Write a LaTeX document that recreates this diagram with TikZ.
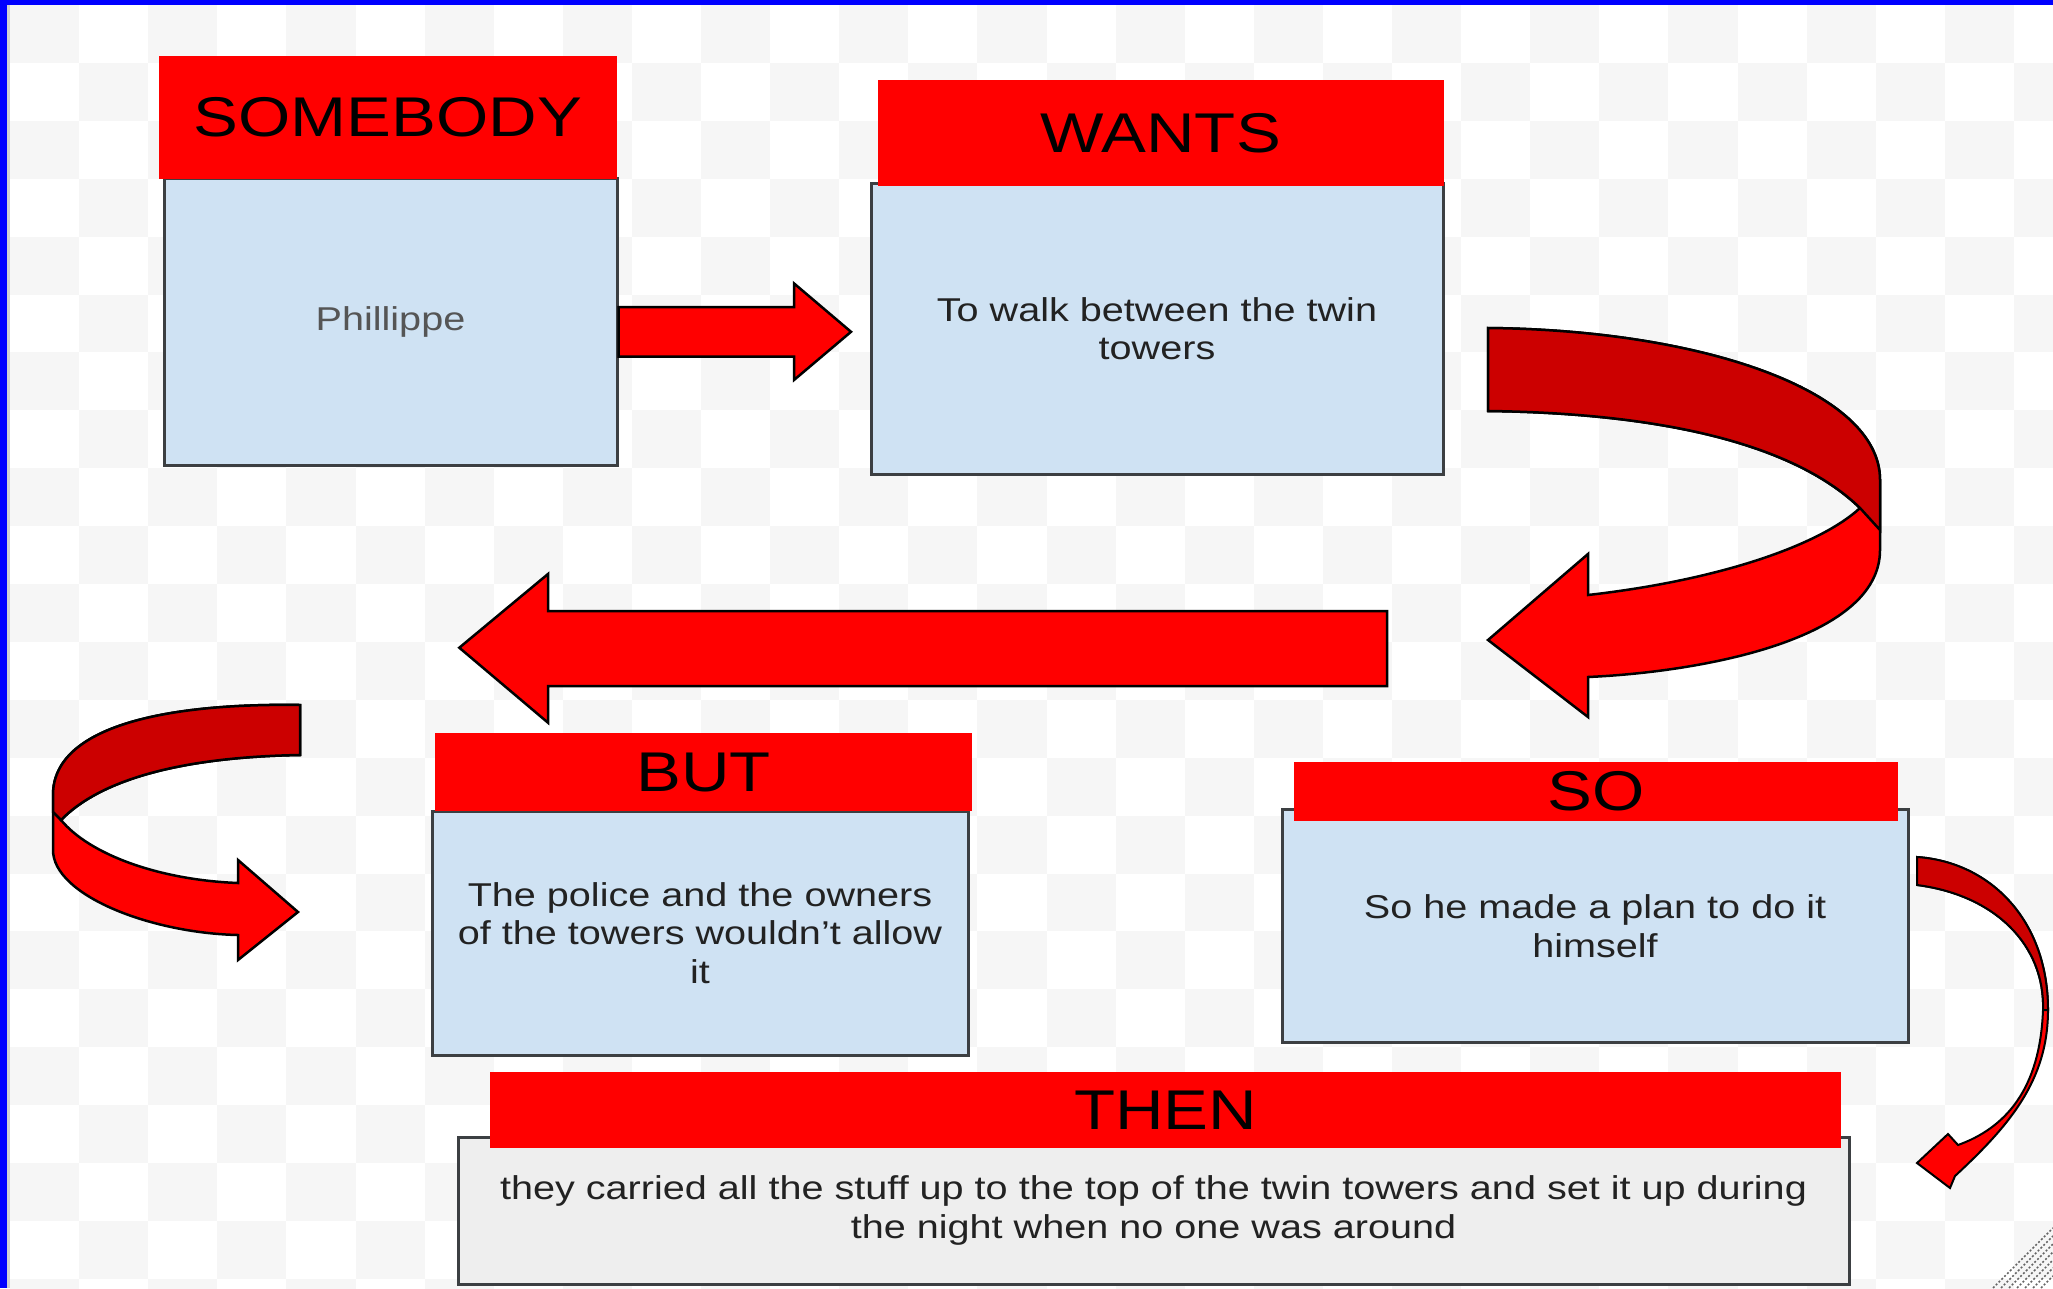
\documentclass[tikz,border=0pt]{standalone}
\usepackage{fontspec}
\setmainfont[FakeStretch=1.2]{Liberation Sans}
\definecolor{boxblue}{HTML}{CFE2F3}
\definecolor{boxgrey}{HTML}{EEEEEE}
\definecolor{checker}{HTML}{F6F6F6}
\definecolor{darkred}{HTML}{CC0000}
\definecolor{edgegrey}{HTML}{3C3F42}
\definecolor{textgrey}{HTML}{222222}
\definecolor{phgrey}{HTML}{555555}
\tikzset{
  hdr/.style={fill=red, inner sep=0pt, font=\fontsize{56}{64}\selectfont},
  bodybox/.style={draw=edgegrey, line width=3pt, fill=boxblue, inner sep=0pt, align=center, text=textgrey, font=\fontsize{33}{38.5}\selectfont},
  flowarrow/.style={fill=red, draw=black, line width=2.5pt, line join=miter},
  flowdark/.style={fill=darkred, draw=black, line width=2.5pt, line join=miter}
}
\begin{document}
\begin{tikzpicture}[x=1pt, y=-1pt]
\useasboundingbox (0,0) rectangle (2053,1288);
% background
\fill[white] (0,0) rectangle (2053,1288);
\begin{scope}
\clip (10,5) rectangle (2053,1288);
\foreach \i in {0,...,29}{
  \foreach \j in {0,...,22}{
    \ifodd\numexpr\i+\j\relax\else
      \fill[checker] (10+69.1*\i,5+57.9*\j) rectangle ++(69.1,57.9);
    \fi}}
\end{scope}
\fill[blue] (0,0) rectangle (2053,5);
\fill[blue] (0,0) rectangle (6.5,1288);
\fill[black!18] (6.5,5) rectangle (10,1288);
\foreach \k in {12,20,...,60}
  \draw[black!60, line width=1.5pt, dash pattern=on 2pt off 2pt] (2053-\k,1288) -- (2053,1288-\k);

% boxes
\node[bodybox, minimum width=453pt, minimum height=286.5pt, text=phgrey] (somebodyBody) at (390.5,322) {Phillippe};
\node[hdr, minimum width=458.5pt, minimum height=122.5pt] (somebodyHead) at (388,117.5) {SOMEBODY};

\node[bodybox, minimum width=572pt, minimum height=291pt] (wantsBody) at (1157,328.5) {To walk between the twin\\towers};
\node[hdr, minimum width=566.5pt, minimum height=106pt] (wantsHead) at (1160.75,133) {WANTS};

\node[bodybox, minimum width=536pt, minimum height=244pt] (butBody) at (700,933) {The police and the owners\\of the towers wouldn't allow\\it};
\node[hdr, minimum width=537pt, minimum height=77.5pt] (butHead) at (703.5,772) {BUT};

\node[bodybox, minimum width=626pt, minimum height=233.5pt] (soBody) at (1595,926) {So he made a plan to do it\\himself};
\node[hdr, minimum width=604pt, minimum height=58.6pt] (soHead) at (1596,791.3) {SO};

\node[bodybox, fill=boxgrey, minimum width=1391pt, minimum height=147pt] (thenBody) at (1153.5,1210.5) {they carried all the stuff up to the top of the twin towers and set it up during\\the night when no one was around};
\node[hdr, minimum width=1351pt, minimum height=76pt] (thenHead) at (1165.5,1110) {THEN};

% arrows
\filldraw[flowarrow] (somebodyBody.east |- 0,307) -- (794,307) -- (794,283.4) -- (851,331.8) -- (794,380) -- (794,356.5) -- (somebodyBody.east |- 0,356.5) -- cycle;

\filldraw[flowarrow] (1488,328) .. controls (1700,330) and (1880,390) .. (1880,480) -- (1880,550) .. controls (1880,640) and (1700,672) .. (1588,677) -- (1588,717) -- (1488,640) -- (1588,554) -- (1588,595) .. controls (1720,580) and (1820,545) .. (1860,508) .. controls (1790,440) and (1650,413) .. (1488,411) -- cycle;
\filldraw[flowdark] (1488,328) .. controls (1700,330) and (1880,390) .. (1880,480) -- (1880,530) -- (1860,508) .. controls (1790,440) and (1650,413) .. (1488,411) -- cycle;

\filldraw[flowarrow] (1387,611) -- (548,611) -- (548,574) -- (459.3,647.7) -- (548,722.7) -- (548,686) -- (1387,686) -- cycle;

\filldraw[flowarrow] (300,705) .. controls (170,703) and (53,725) .. (53,795) -- (53,850) .. controls (53,895) and (150,933) .. (238,935) -- (238,960) -- (298,912) -- (238,860) -- (238,883) .. controls (160,880) and (90,855) .. (61,820) .. controls (100,780) and (180,757) .. (300,755) -- cycle;
\filldraw[flowdark] (300,705) .. controls (170,703) and (53,725) .. (53,795) -- (53,812) -- (61,820) .. controls (100,780) and (180,757) .. (300,755) -- cycle;

\filldraw[flowarrow, line width=2pt] (1917,857) .. controls (1990,862) and (2048,920) .. (2048,1010) .. controls (2048,1080) and (2010,1125) .. (1955,1176) -- (1950,1188) -- (1917,1163) -- (1948,1134) -- (1958,1145) .. controls (2005,1128) and (2040,1090) .. (2043,1010) .. controls (2045,945) and (1995,895) .. (1917,885) -- cycle;
\filldraw[flowdark, line width=2pt] (1917,857) .. controls (1990,862) and (2048,920) .. (2048,1010) -- (2043,1010) .. controls (2045,945) and (1995,895) .. (1917,885) -- cycle;
\end{tikzpicture}
\end{document}
